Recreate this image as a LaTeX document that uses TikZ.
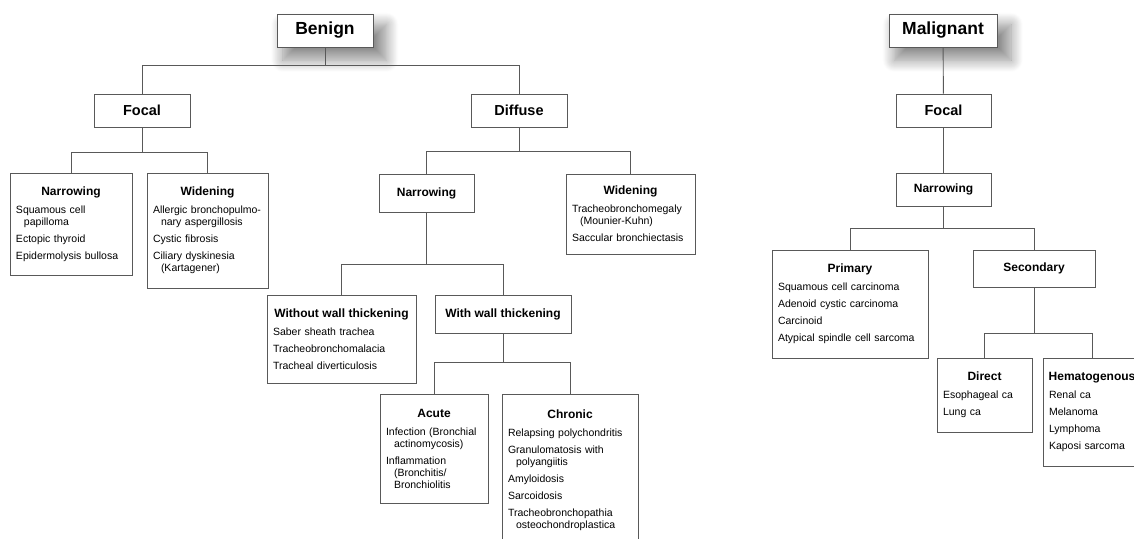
\documentclass[tikz,border=0pt]{standalone}
\usepackage{fontspec}
\setmainfont{Liberation Sans}
\usetikzlibrary{shadows.blur}
\newcommand\hd[1]{\makebox[\linewidth]{\fontsize{12}{14}\selectfont\bfseries #1}\\[6pt]}
\newcommand\nx{\\[5pt]}
\newcommand\br{\\\hspace*{8pt}}
\begin{document}
\begin{tikzpicture}[x=1pt,y=-1pt,
    box/.style={draw=black!65, line width=0.9pt, fill=white, inner sep=0pt, align=center},
    topbox/.style={box, font=\fontsize{17.5}{20}\selectfont\bfseries,
      blur shadow={shadow xshift=9pt, shadow yshift=-11pt, shadow scale=1.08, shadow blur radius=11pt, shadow blur steps=14, shadow opacity=45}},
    midbox/.style={box, font=\fontsize{14.5}{16}\selectfont\bfseries},
    subbox/.style={box, font=\fontsize{12}{14}\selectfont\bfseries},
    listbox/.style={box, align=left, inner xsep=6pt, font=\fontsize{10.5}{12}\selectfont}]
  \useasboundingbox (0,0) rectangle (1134,538);
  \clip (0,0) rectangle (1134,538);
  \node[topbox, minimum width=96pt, minimum height=33pt] (benign) at (325,30.5) {Benign};
  \node[topbox, minimum width=108pt, minimum height=33pt] (malig) at (943,30.5) {Malignant};
  \node[midbox, minimum width=96pt, minimum height=33pt] (bfocal) at (142,110.5) {Focal};
  \node[midbox, minimum width=96pt, minimum height=33pt] (diffuse) at (519,110.5) {Diffuse};
  \node[midbox, minimum width=95pt, minimum height=33pt] (mfocal) at (943.5,110.5) {Focal};
  \node[subbox, minimum width=95pt, minimum height=33pt] (mnarrow) at (943.5,189.5) {Narrowing};
  \node[subbox, minimum width=95pt, minimum height=38pt] (dnarrow) at (426.5,193) {Narrowing};
  \node[subbox, minimum width=136pt, minimum height=38pt] (withwall) at (503,314) {With wall thickening};
  \node[subbox, minimum width=122pt, minimum height=37pt] (secondary) at (1034,268.5) {Secondary};
  \node[listbox, minimum width=122pt, text width=110pt, minimum height=102pt] (bfnarrow) at (71,224)
    {\hd{Narrowing}Squamous cell\br papilloma\nx Ectopic thyroid\nx Epidermolysis bullosa};
  \node[listbox, minimum width=121pt, text width=109pt, minimum height=115pt] (bfwiden) at (207.5,230.5)
    {\hd{Widening}Allergic bronchopulmo-\br nary aspergillosis\nx Cystic fibrosis\nx Ciliary dyskinesia\br(Kartagener)};
  \node[listbox, minimum width=129pt, text width=117pt, minimum height=80pt] (dwiden) at (630.5,214)
    {\hd{Widening}Tracheobronchomegaly\br(Mounier-Kuhn)\nx Saccular bronchiectasis};
  \node[listbox, minimum width=149pt, text width=137pt, minimum height=88pt] (without) at (341.5,339)
    {\hd{Without wall thickening}Saber sheath trachea\nx Tracheobronchomalacia\nx Tracheal diverticulosis};
  \node[listbox, minimum width=108pt, text width=96pt, minimum height=109pt] (acute) at (434,448.5)
    {\hd{Acute}Infection (Bronchial\br actinomycosis)\nx Inflammation\br(Bronchitis/\br Bronchiolitis};
  \node[listbox, minimum width=136pt, text width=124pt, minimum height=152pt] (chronic) at (570,470)
    {\hd{Chronic}Relapsing polychondritis\nx Granulomatosis with\br polyangiitis\nx Amyloidosis\nx Sarcoidosis\nx Tracheobronchopathia\br osteochondroplastica};
  \node[listbox, minimum width=156pt, text width=144pt, minimum height=108pt] (primary) at (850,304)
    {\hd{Primary}Squamous cell carcinoma\nx Adenoid cystic carcinoma\nx Carcinoid\nx Atypical spindle cell sarcoma};
  \node[listbox, minimum width=95pt, text width=83pt, minimum height=74pt] (direct) at (984.5,395)
    {\hd{Direct}Esophageal ca\nx Lung ca};
  \node[listbox, minimum width=98pt, text width=86pt, minimum height=108pt] (hemato) at (1092,412)
    {\hd{Hematogenous}Renal ca\nx Melanoma\nx Lymphoma\nx Kaposi sarcoma};
  \begin{scope}[draw=black!65, line width=0.9pt]
    \draw (benign.south) -- ++(0,18) -| (bfocal.north);
    \draw (benign.south) -- ++(0,18) -| (diffuse.north);
    \draw (bfocal.south) -- ++(0,25) -| (bfnarrow.north);
    \draw (bfocal.south) -- ++(0,25) -| (bfwiden.north);
    \draw (diffuse.south) -- ++(0,24) -| (dnarrow.north);
    \draw (diffuse.south) -- ++(0,24) -| (dwiden.north);
    \draw (dnarrow.south) -- ++(0,52) -| (without.north);
    \draw (dnarrow.south) -- ++(0,52) -| (withwall.north);
    \draw (withwall.south) -- ++(0,29) -| (acute.north);
    \draw (withwall.south) -- ++(0,29) -| (chronic.north);
    \draw (malig) -- (mfocal);
    \draw (mfocal) -- (mnarrow);
    \draw (mnarrow.south) -- ++(0,22) -| (primary.north);
    \draw (mnarrow.south) -- ++(0,22) -| (secondary.north);
    \draw (secondary.south) -- ++(0,46) -| (direct.north);
    \draw (secondary.south) -- ++(0,46) -| (hemato.north);
  \end{scope}
\end{tikzpicture}
\end{document}
